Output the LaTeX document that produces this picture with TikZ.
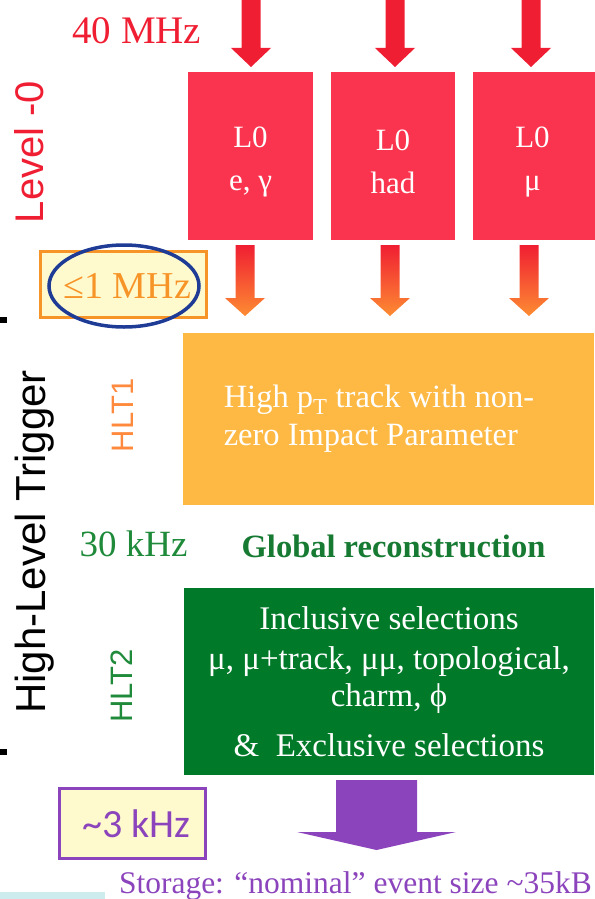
\documentclass[tikz,border=0pt]{standalone}
\usepackage{fontspec}
\setmainfont{Liberation Serif}
\setsansfont{Liberation Sans}
\newfontfamily\calibri{Carlito}
\definecolor{lzred}{RGB}{240,30,50}
\definecolor{lzbox}{RGB}{250,52,78}
\definecolor{arroworange}{RGB}{253,140,50}
\definecolor{rateorange}{RGB}{247,148,40}
\definecolor{ratefill}{RGB}{255,250,205}
\definecolor{hltorange}{RGB}{253,185,67}
\definecolor{hltonetxt}{RGB}{255,138,61}
\definecolor{hltgreen}{RGB}{0,122,41}
\definecolor{dkgreen}{RGB}{22,122,50}
\definecolor{midgreen}{RGB}{30,138,58}
\definecolor{lzpurple}{RGB}{139,68,188}
\definecolor{ringblue}{RGB}{30,60,150}
\definecolor{cyanbar}{RGB}{205,236,238}
\newcommand{\fs}[2]{\fontsize{#1}{#2}\selectfont}
% fat block arrow: x centre, y top, y head, y tip, half shaft, half head
\newcommand{\fatarrow}[6]{({#1-#5},#2) -- ({#1+#5},#2) -- ({#1+#5},#3) -- ({#1+#6},#3) -- (#1,#4) -- ({#1-#6},#3) -- ({#1-#5},#3) -- cycle}
\begin{document}
\begin{tikzpicture}[x=1pt, y=-1pt,
    l0box/.style={fill=lzbox, minimum width=125, minimum height=168, inner sep=0},
    l0text/.style={align=center, text=white, font=\fs{31}{43}},
    ratebox/.style={line width=3pt, minimum height=66, inner sep=0}]
    \useasboundingbox (0,0) rectangle (594,899);
    % Level-0
    \foreach \cx in {251,395,531}
        \fill[lzred] \fatarrow{\cx}{0}{48}{67}{9.5}{20};
    \node[anchor=base] (forty) at (132,44) {\color{lzred}\fs{39}{44} 40 MHz};
    \node[rotate=90, font=\sffamily\fs{40}{48}] (levelzero) at (29,152) {\color{lzred} Level -0};
    \node[l0box] (l0e) at (250.5,156) {};
    \node[l0box, minimum width=124] (l0had) at (393,156) {};
    \node[l0box, minimum width=123] (l0mu) at (534.5,156) {};
    \node[l0text] (l0etext) at ([yshift=-6pt]l0e.center) {L0\\e, γ};
    \node[l0text] (l0hadtext) at ([yshift=-6pt]l0had.center) {L0\\had};
    \node[l0text] (l0mutext) at ([yshift=-6pt,xshift=-2pt]l0mu.center) {L0\\μ};
    \foreach \cx in {245,390,529}
        \shade[top color=lzred, bottom color=arroworange] \fatarrow{\cx}{245}{298}{316}{9.5}{20};
    \node[ratebox, draw=rateorange, fill=ratefill, minimum width=166] (rateone) at (123,284) {};
    \node[anchor=base] (rateonetext) at (122.5,298) {\color{rateorange}\fs{38}{44} ≤1 MHz};
    \draw[ringblue, line width=3.5pt] (124,286) ellipse [x radius=75, y radius=41];
    % High-Level Trigger
    \fill (0,317) rectangle (7,323);
    \fill (0,749) rectangle (7,755);
    \node[rotate=90, font=\sffamily\fs{42}{48}] (trigger) at (35,542) {\color{black} High-Level Trigger};
    \node[rotate=90, font=\sffamily\fs{31}{36}] (hltonelbl) at (123,415.5) {\color{hltonetxt} HLT1};
    \node[fill=hltorange, minimum width=411, minimum height=172, inner sep=0] (hltone) at (388.5,419) {};
    \node[align=left, text=white, font=\fs{32.5}{38}] (hltonetext) at (379,419) {High p\textsubscript{T} track with non-\\zero Impact Parameter};
    \node[anchor=base] (thirty) at (129,556) {\color{midgreen}\fs{37}{42} 30 kHz};
    \node[anchor=base] (globreco) at (393.5,557) {\color{dkgreen}\fs{32.5}{38}\bfseries Global reconstruction};
    \node[rotate=90, font=\sffamily\fs{31}{36}] (hlttwolbl) at (122,686) {\color{midgreen} HLT2};
    \node[fill=hltgreen, minimum width=410, minimum height=187, inner sep=0] (hlttwo) at (389,681.5) {};
    \node[align=center, text=white, font=\fs{33}{38}] (hlttwotext) at (389,682) {Inclusive selections\\[2pt]μ, μ+track, μμ, topological,\\[-1pt]charm, ϕ\\[12pt]\& \ Exclusive selections};
    % storage
    \fill[lzpurple] \fatarrow{376.5}{780}{832}{850}{40.5}{79.5};
    \node[ratebox, draw=lzpurple, fill=ratefill, minimum width=146, minimum height=70] (ratethree) at (132,823) {};
    \node[anchor=base] (ratethreetext) at (132,837) {\color{lzpurple}\calibri\fs{40}{46} \textasciitilde 3 kHz};
    \node[anchor=base east, inner sep=2pt] (storage) at (594,893) {\color{lzpurple}\fs{31.5}{36} Storage: “nominal” event size \textasciitilde 35kB};
    \fill[cyanbar] (0,892) rectangle (105,899);
\end{tikzpicture}
\end{document}
